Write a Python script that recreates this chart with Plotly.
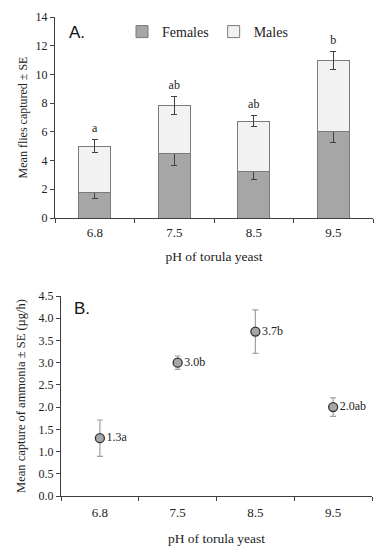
import plotly.graph_objects as go

# ---- data ----
ph_labels = ["6.8", "7.5", "8.5", "9.5"]
females = [1.75, 4.5, 3.25, 6.0]
females_se = [0.4, 0.85, 0.55, 0.77]
totals = [5.0, 7.85, 6.75, 10.95]
totals_se = [0.45, 0.62, 0.4, 0.62]
letters_a = ["a", "ab", "ab", "b"]

ammonia = [1.3, 3.0, 3.7, 2.0]
ammonia_se = [0.41, 0.15, 0.49, 0.21]
ammonia_labels = ["1.3a", "3.0b", "3.7b", "2.0ab"]

males = [t - f for t, f in zip(totals, females)]

W, H = 387, 550
SERIF = "Liberation Serif, Times New Roman, serif"
SANS = "Liberation Sans, Arial, sans-serif"

def px_x(p):
    return p / W

def px_y(p):
    return 1 - p / H

fig = go.Figure()

err_style = dict(type="data", color="#404040", thickness=1, width=3)

fig.add_trace(go.Bar(
    x=ph_labels, y=females, name="Females",
    marker=dict(color="#a6a6a6", line=dict(color="#7a7a7a", width=1)),
    error_y=dict(array=females_se, **err_style),
    xaxis="x", yaxis="y", width=0.4,
))
fig.add_trace(go.Bar(
    x=ph_labels, y=males, name="Males",
    marker=dict(color="#f2f2f2", line=dict(color="#7a7a7a", width=1)),
    error_y=dict(array=totals_se, **err_style),
    xaxis="x", yaxis="y", width=0.4,
))
fig.add_trace(go.Scatter(
    x=ph_labels, y=[t + s + 0.75 for t, s in zip(totals, totals_se)],
    text=letters_a, mode="text", showlegend=False,
    textfont=dict(family=SERIF, size=12, color="#222"),
    xaxis="x", yaxis="y", hoverinfo="skip",
))

fig.add_trace(go.Scatter(
    x=ph_labels, y=ammonia, text=ammonia_labels,
    mode="markers+text", textposition="middle right", showlegend=False,
    marker=dict(color="#a6a6a6", size=9, line=dict(color="#333", width=1.3)),
    error_y=dict(type="data", array=ammonia_se, color="#a0a0a0", thickness=1.2, width=3),
    textfont=dict(family=SERIF, size=12, color="#222"),
    xaxis="x2", yaxis="y2",
))

axis_common = dict(
    showgrid=False, zeroline=False, showline=True, linecolor="#404040", linewidth=1,
    ticks="outside", ticklen=4, tickcolor="#404040", automargin=False,
)
xtickfont = dict(family=SERIF, size=13, color="#222")
ytickfont = dict(family=SERIF, size=12, color="#222")

fig.update_layout(
    template="none",
    width=W, height=H,
    margin=dict(l=0, r=0, t=0, b=0),
    paper_bgcolor="white", plot_bgcolor="white",
    barmode="stack",
    showlegend=True,
    legend=dict(orientation="h", x=px_x(122), y=px_y(32), xanchor="left", yanchor="middle",
                font=dict(family=SERIF, size=14, color="#222"), itemwidth=30,
                traceorder="normal",
                bgcolor="rgba(0,0,0,0)", tracegroupgap=0),
    xaxis=dict(domain=[px_x(55), px_x(373)], anchor="y", type="category",
               range=[-0.5, 3.5], tickson="boundaries", tickfont=xtickfont,
               ticklabelstandoff=2,
               title=dict(text="pH of torula yeast", font=dict(family=SERIF, size=13.5, color="#222"), standoff=12),
               **axis_common),
    yaxis=dict(domain=[px_y(218), px_y(17)], anchor="x", range=[0, 14], dtick=2,
               tickfont=ytickfont,
               title=dict(text="Mean flies captured ± SE", font=dict(family=SERIF, size=12, color="#222"), standoff=5),
               **axis_common),
    xaxis2=dict(domain=[px_x(61), px_x(372)], anchor="y2", type="category",
                range=[-0.5, 3.5], tickson="boundaries", tickfont=xtickfont,
                ticklabelstandoff=4,
                title=dict(text="pH of torula yeast", font=dict(family=SERIF, size=13.5, color="#222"), standoff=14),
                **axis_common),
    yaxis2=dict(domain=[px_y(496), px_y(296)], anchor="x2", range=[0, 4.5], dtick=0.5,
                tickformat=".1f", tickfont=ytickfont,
                title=dict(text="Mean capture of ammonia ± SE (µg/h)", font=dict(family=SERIF, size=12.5, color="#222"), standoff=10),
                **axis_common),
    annotations=[
        dict(text="A.", x=px_x(67), y=px_y(32), xref="paper", yref="paper",
             xanchor="left", yanchor="middle", showarrow=False,
             font=dict(family=SANS, size=17, color="#111")),
        dict(text="B.", x=px_x(72), y=px_y(308), xref="paper", yref="paper",
             xanchor="left", yanchor="middle", showarrow=False,
             font=dict(family=SANS, size=17, color="#111")),
    ],
)

fig.write_html("out.html", config={"displayModeBar": False},
               post_script="document.body.style.margin='0';")
